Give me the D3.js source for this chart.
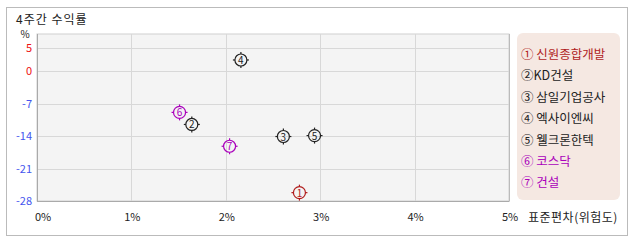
<!DOCTYPE html>
<html><head><meta charset="utf-8">
<script src="https://cdn.jsdelivr.net/npm/d3@7"></script>
<style>
body{margin:0;background:#fff;}
text{font-family:"Noto Sans CJK KR","Noto Sans",sans-serif;}
</style></head>
<body><svg id="c" width="638" height="242"></svg>
<script>
const names = ["신원종합개발","KD건설","삼일기업공사","엑사이엔씨","웰크론한텍","코스닥","건설"];
const marks = ["①","②","③","④","⑤","⑥","⑦"];
const risk = [2.78, 1.64, 2.61, 2.16, 2.94, 1.51, 2.04];
const ret = [-26.2, -11.5, -14.1, 2.4, -13.9, -8.9, -16.2];
const colors = ["#b01c1c","#222222","#222222","#222222","#222222","#aa00bb","#aa00bb"];
const xTicks = [0,1,2,3,4,5];
const yTicks = [5,0,-7,-14,-21,-28];

const svg = d3.select("#c");
svg.append("rect").attr("x",6.5).attr("y",7.5).attr("width",621).attr("height",228)
  .attr("fill","#fff").attr("stroke","#bbb");
svg.append("text").attr("x",16).attr("y",24).attr("font-size",12).attr("letter-spacing",1).attr("fill","#222").text("4주간 수익률");

const L=37,R=509,T=34,B=201;
const x = d3.scaleLinear().domain([0,5]).range([L,R]);
const y = d3.scaleLinear().domain([-28,8]).range([B,T]);

svg.append("rect").attr("x",L).attr("y",T).attr("width",R-L).attr("height",B-T).attr("fill","#f4f4f4").attr("stroke","#d0d0d0");
const g = svg.append("g");
g.selectAll(".vx").data(xTicks.slice(1,-1)).join("line")
  .attr("x1",d=>Math.round(x(d))+0.5).attr("x2",d=>Math.round(x(d))+0.5).attr("y1",T).attr("y2",B).attr("stroke","#d8d8d8");
g.selectAll(".hy").data(yTicks.slice(0,-1)).join("line")
  .attr("y1",d=>Math.round(y(d))+0.5).attr("y2",d=>Math.round(y(d))+0.5).attr("x1",L).attr("x2",R).attr("stroke","#d8d8d8");
svg.append("line").attr("x1",L+0.5).attr("x2",L+0.5).attr("y1",T).attr("y2",B+0.5).attr("stroke","#aaa");
svg.append("line").attr("x1",L).attr("x2",R).attr("y1",B+0.5).attr("y2",B+0.5).attr("stroke","#aaa");
svg.append("line").attr("x1",R+0.5).attr("x2",R+0.5).attr("y1",T).attr("y2",B+0.5).attr("stroke","#bbb");

// y axis labels
svg.selectAll(".yl").data(yTicks).join("text")
  .attr("x",32).attr("y",d=>y(d)+4).attr("text-anchor","end").attr("font-size",11)
  .attr("fill",d=>d>=0?"#ee1111":"#4455ee").text(d=>d);
svg.append("text").attr("x",25).attr("y",38).attr("text-anchor","middle").attr("font-size",10).attr("fill","#222").text("%");
// x axis labels
svg.selectAll(".xl").data(xTicks).join("text")
  .attr("x",d=>d===0?x(d)+6:x(d)+1).attr("y",221).attr("text-anchor","middle").attr("font-size",11)
  .attr("fill","#222").text(d=>d+"%");
svg.append("text").attr("x",528).attr("y",222).attr("font-size",12).attr("letter-spacing",0.5).attr("fill","#222").text("표준편차(위험도)");

// points
const pts = svg.selectAll(".pt").data(names.map((n,i)=>i)).join("g")
  .attr("transform",i=>`translate(${x(risk[i])},${y(ret[i])})`);
pts.append("circle").attr("r",6).attr("fill","none").attr("stroke",i=>colors[i]).attr("stroke-width",1.2);
pts.each(function(i){
  const s=d3.select(this);
  [[0,-6,0,-8],[0,6,0,8],[-6,0,-8,0],[6,0,8,0]].forEach(a=>{
    s.append("line").attr("x1",a[0]).attr("y1",a[1]).attr("x2",a[2]).attr("y2",a[3]).attr("stroke",colors[i]).attr("stroke-width",1.2);
  });
});
pts.append("text").attr("text-anchor","middle").attr("y",4).attr("font-size",10).attr("fill",i=>colors[i]).text(i=>i+1);

// legend
svg.append("rect").attr("x",517).attr("y",33).attr("width",103).attr("height",167).attr("rx",6).attr("fill","#f5e8e2");
svg.selectAll(".lg").data(names.map((n,i)=>i)).join("text")
  .attr("x",521).attr("y",i=>59+i*21.4).attr("font-size",12.5).attr("fill",i=>colors[i])
  .text(i=>marks[i]+(i===1?"":" ")+names[i]);
</script></body></html>
